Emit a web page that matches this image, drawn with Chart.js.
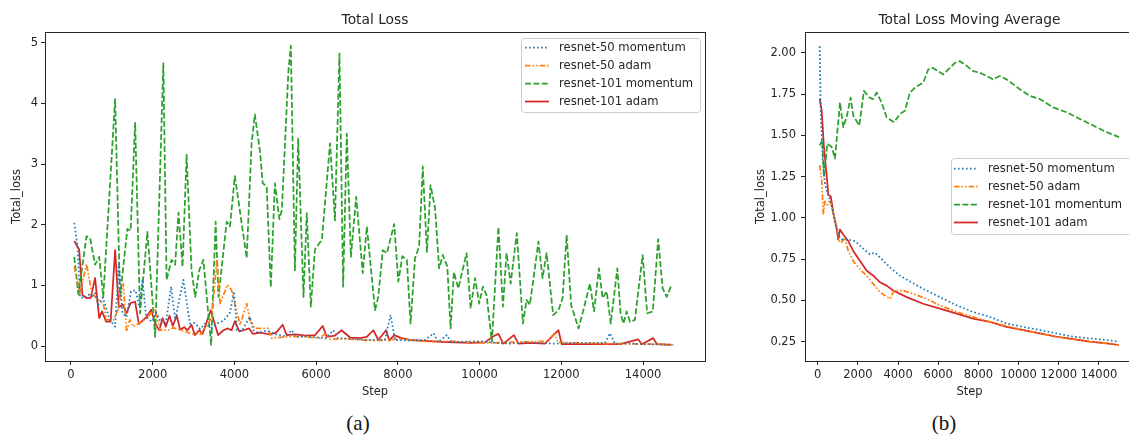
<!DOCTYPE html>
<html><head><meta charset="utf-8">
<script src="https://cdn.jsdelivr.net/npm/chart.js@4"></script>
<style>
html,body{margin:0;padding:0;width:1129px;height:435px;overflow:hidden;background:#fff;}
#wrap{position:relative;width:1129px;height:435px;overflow:hidden;}
canvas{position:absolute;top:0;}
#ca{left:0;}
#cb{left:745px;}
.cap{position:absolute;top:410px;line-height:26px;font-family:'Liberation Serif','DejaVu Serif',serif;font-size:21px;color:#111;transform:translateX(-50%);white-space:nowrap;}
</style></head><body>
<div id="wrap">
<canvas id="ca" width="720" height="405"></canvas>
<canvas id="cb" width="400" height="405"></canvas>
<div class="cap" style="left:358px">(a)</div>
<div class="cap" style="left:944px">(b)</div>
</div>
<script>
// ---------- labels ----------
const seriesNames = ['resnet-50 momentum', 'resnet-50 adam', 'resnet-101 momentum', 'resnet-101 adam'];
const xTicks = [0, 2000, 4000, 6000, 8000, 10000, 12000, 14000];
const yTicksA = [0, 1, 2, 3, 4, 5];
const yTicksB = [0.25, 0.50, 0.75, 1.00, 1.25, 1.50, 1.75, 2.00];

// ---------- (a) Total Loss ----------
const stepsR50MomA = [80,160,220,320,420,510,590,670,780,950,
  1080,1170,1260,1360,1470,1580,1670,1750,1840,1980,
  2080,2220,2320,2450,2550,2750,2910,3030,3160,3280,
  3450,3570,3740,3890,3990,4060,4180,4380,4460,4580,
  4800,5030,5260,5400,5520,5780,6090,6220,6420,6530,
  6830,7200,7680,7820,7930,8300,8660,8880,8980,9200,
  9300,9640,10010,10380,10740,11110,11480,11840,12330,12820,
  13070,13190,13310,13680,14170,14740];
const lossR50MomA = [2.03,1.64,0.81,0.79,0.85,0.82,0.87,0.68,0.80,0.43,
  0.32,1.36,0.54,0.48,0.90,0.92,0.65,1.09,0.48,0.40,
  0.55,0.37,0.38,0.98,0.43,1.09,0.37,0.38,0.28,0.37,
  0.30,0.37,0.42,0.55,0.90,0.26,0.25,0.48,0.26,0.22,
  0.25,0.19,0.16,0.26,0.15,0.16,0.14,0.12,0.26,0.13,
  0.12,0.10,0.10,0.51,0.10,0.09,0.10,0.21,0.06,0.18,
  0.06,0.07,0.08,0.05,0.04,0.06,0.05,0.04,0.05,0.05,
  0.05,0.21,0.04,0.04,0.03,0.02];

const stepsR50AdamA = [80,220,380,510,610,790,870,1040,1150,1280,
  1360,1440,1520,1690,1840,2060,2180,2370,2500,2670,
  2950,3160,3360,3450,3570,3650,3830,3930,4010,4140,
  4300,4380,4500,4830,4910,5240,5600,6090,6220,6340,
  6710,7070,7440,7810,8050,8420,8790,9280,9770,10250,
  10740,11230,11670,11820,11920,12460,12950,13440,13930,14420,
  14730];
const lossR50AdamA = [1.31,0.87,1.35,0.87,0.80,0.70,0.43,0.43,0.60,1.03,
  0.24,0.43,0.32,0.38,0.45,0.62,0.26,0.26,0.30,0.27,
  0.20,0.19,0.37,0.50,1.42,0.70,1.01,0.92,0.70,0.35,
  0.70,0.43,0.29,0.29,0.13,0.15,0.16,0.13,0.20,0.11,
  0.12,0.10,0.09,0.10,0.12,0.09,0.07,0.08,0.06,0.05,
  0.06,0.07,0.08,0.20,0.06,0.05,0.04,0.04,0.03,0.03,
  0.02];

const stepsR101MomA = [80,180,380,470,590,690,790,1080,1200,1380,
  1460,1570,1690,1870,2060,2260,2340,2460,2550,2630,
  2730,2830,2950,3040,3140,3240,3430,3540,3610,3810,
  3890,4010,4300,4420,4500,4630,4690,4790,4890,4990,
  5100,5160,5320,5380,5480,5560,5690,5770,5870,5970,
  6140,6340,6460,6570,6660,6750,6850,6980,7140,7240,
  7440,7520,7630,7730,7910,8010,8110,8220,8310,8420,
  8520,8610,8710,8800,8910,9010,9100,9210,9290,9370,
  9480,9680,9780,9890,9990,10080,10170,10300,10460,10570,
  10660,10760,10910,11060,11150,11230,11440,11540,11640,11800,
  11930,12030,12130,12240,12420,12540,12700,12800,12920,13010,
  13110,13210,13370,13450,13520,13600,13680,13800,13990,14100,
  14240,14370,14480,14580,14680];
const lossR101MomA = [1.47,0.85,1.81,1.77,1.34,1.47,0.81,4.07,0.81,1.93,
  1.90,3.68,0.54,1.88,0.15,4.66,1.09,1.42,1.34,2.20,
  1.31,3.15,1.25,0.81,1.25,1.42,0.02,2.05,0.81,2.05,
  1.97,2.80,1.45,3.34,3.82,3.18,2.69,2.62,0.97,2.68,
  2.09,2.24,4.52,4.95,1.25,3.42,0.81,2.19,0.65,1.59,
  1.75,3.34,2.07,4.82,0.98,3.50,1.47,2.46,1.20,1.97,
  0.59,0.81,1.58,1.53,2.01,1.06,1.48,1.42,0.37,1.45,
  1.64,2.96,1.55,2.65,2.27,1.28,1.50,1.31,0.29,1.22,
  0.95,1.53,0.62,1.12,0.70,0.98,0.84,0.07,1.96,0.65,
  1.53,1.03,1.86,0.37,0.76,0.68,1.72,1.12,1.53,0.51,
  0.59,0.79,1.83,0.68,0.29,0.59,1.03,0.57,1.28,0.79,
  0.90,0.37,1.28,0.54,0.37,0.57,0.40,0.43,1.50,0.54,
  0.57,1.76,0.95,0.81,0.98];

const stepsR101AdamA = [80,200,280,380,480,590,690,760,860,970,
  1080,1170,1270,1360,1460,1570,1660,1770,1850,1960,
  2060,2160,2240,2320,2410,2490,2590,2670,2770,2850,
  2950,3030,3140,3220,3420,3600,3730,3840,3930,4010,
  4120,4220,4360,4450,4630,4870,5020,5180,5280,5480,
  5730,5970,6160,6260,6460,6620,6830,7070,7240,7400,
  7520,7710,7790,7910,8090,8300,8540,8790,9030,9400,
  9770,10130,10340,10460,10580,10840,10950,11230,11600,11930,
  12010,12460,12950,13440,13880,13970,14250,14340,14700];
const lossR101AdamA = [1.73,1.59,0.84,0.79,0.79,1.12,0.46,0.57,0.40,0.40,
  1.58,0.64,0.68,0.54,0.71,0.73,0.36,0.43,0.48,0.60,
  0.37,0.26,0.46,0.32,0.50,0.33,0.50,0.27,0.31,0.26,
  0.35,0.18,0.26,0.20,0.59,0.18,0.26,0.29,0.26,0.41,
  0.24,0.26,0.29,0.20,0.22,0.19,0.22,0.35,0.18,0.19,
  0.17,0.18,0.33,0.15,0.17,0.26,0.14,0.13,0.15,0.26,
  0.10,0.26,0.09,0.18,0.13,0.10,0.09,0.08,0.07,0.06,
  0.05,0.06,0.16,0.20,0.04,0.18,0.04,0.05,0.04,0.26,
  0.03,0.03,0.03,0.03,0.11,0.03,0.13,0.03,0.02];

// ---------- (b) Total Loss Moving Average ----------
const stepsR50MomB = [100,150,250,360,480,650,860,1060,1190,1440,
  1860,2300,2600,2850,3100,3600,4090,5250,6080,6920,
  7740,8570,9400,10230,11060,11890,12720,13550,14380,15000];
const avgR50MomB = [2.04,1.65,1.35,1.21,1.15,1.10,0.97,0.89,0.87,0.87,
  0.86,0.81,0.78,0.79,0.76,0.70,0.65,0.57,0.52,0.47,
  0.43,0.40,0.36,0.34,0.32,0.30,0.28,0.27,0.26,0.25];

const stepsR50AdamB = [100,200,280,360,480,610,780,950,1060,1160,
  1360,1520,1770,2020,2350,2770,3100,3350,3600,3810,
  4260,4760,5420,6080,6920,7740,8570,9400,10230,11060,
  11890,12720,13550,14380,15000];
const avgR50AdamB = [1.32,1.23,1.02,1.10,1.08,1.11,1.03,0.95,0.86,0.85,
  0.88,0.80,0.74,0.70,0.66,0.60,0.55,0.53,0.51,0.56,
  0.56,0.54,0.51,0.47,0.43,0.40,0.37,0.345,0.32,0.30,
  0.28,0.265,0.25,0.24,0.23];

const stepsR101MomB = [100,230,310,480,700,860,1110,1270,1440,1640,
  1770,2070,2300,2570,2750,2940,3180,3430,3800,4090,
  4340,4590,4840,5250,5500,5720,6250,6500,6830,7080,
  7330,7740,8070,8410,8710,9070,9400,10060,10560,11060,
  11720,12390,13050,13710,14380,15000];
const avgR101MomB = [1.44,1.47,1.25,1.45,1.43,1.36,1.70,1.55,1.61,1.73,
  1.62,1.56,1.77,1.73,1.72,1.76,1.70,1.61,1.58,1.63,
  1.65,1.76,1.79,1.82,1.90,1.91,1.87,1.90,1.94,1.95,
  1.93,1.89,1.88,1.86,1.84,1.86,1.84,1.78,1.74,1.72,
  1.67,1.64,1.60,1.56,1.52,1.49];

const stepsR101AdamB = [100,200,310,450,530,650,780,950,1020,1110,
  1270,1520,1770,2100,2440,2770,3100,3430,3760,4430,
  5250,6080,6920,7740,8570,9400,10230,11060,11890,12720,
  13550,14380,15000];
const avgR101AdamB = [1.72,1.65,1.43,1.25,1.14,1.13,1.03,0.93,0.87,0.93,
  0.90,0.86,0.80,0.74,0.68,0.65,0.61,0.59,0.56,0.52,
  0.48,0.45,0.42,0.39,0.37,0.34,0.32,0.30,0.28,0.265,
  0.25,0.24,0.23];

// ---------- styles ----------
const colors = ['#1f77b4', '#ff7f0e', '#2ca02c', '#d62728'];
const dashes = [[1.6, 2.4], [5.5, 2, 1.6, 2, 1.6, 2], [6, 2.4], []];
const textColor = '#262626';

Chart.defaults.font.family = "'DejaVu Sans', sans-serif";
Chart.defaults.font.size = 11.5;
Chart.defaults.color = textColor;

function pts(xs, ys) { return xs.map((x, i) => ({ x: x, y: ys[i] })); }
function makeDatasets(list) {
  return list.map((pair, i) => ({
    label: seriesNames[i],
    data: pts(pair[0], pair[1]),
    borderColor: colors[i],
    backgroundColor: colors[i],
    borderWidth: 1.75,
    borderDash: dashes[i],
    borderJoinStyle: 'round',
    borderCapStyle: 'butt',
    pointRadius: 0,
    tension: 0,
    fill: false
  }));
}

const framePlugin = {
  id: 'frame',
  afterDatasetsDraw(chart) {
    const { ctx, chartArea: a } = chart;
    const l = Math.round(a.left), t = Math.round(a.top), r = Math.round(a.right), b = Math.round(a.bottom);
    ctx.save();
    ctx.strokeStyle = '#262626';
    ctx.lineWidth = 1;
    ctx.strokeRect(l + 0.5, t + 0.5, r - l, b - t);
    ctx.restore();
  }
};

const mplLegend = {
  id: 'mplLegend',
  afterDraw(chart, args, o) {
    const ctx = chart.ctx;
    ctx.save();
    ctx.beginPath();
    if (ctx.roundRect) ctx.roundRect(o.x + 0.5, o.y + 0.5, o.w, o.h, 3);
    else ctx.rect(o.x + 0.5, o.y + 0.5, o.w, o.h);
    ctx.fillStyle = 'rgba(255,255,255,0.8)';
    ctx.fill();
    ctx.strokeStyle = '#cccccc';
    ctx.lineWidth = 1;
    ctx.stroke();
    chart.data.datasets.forEach((ds, i) => {
      const y = o.y0 + i * o.gap;
      ctx.beginPath();
      ctx.setLineDash(ds.borderDash || []);
      ctx.strokeStyle = ds.borderColor;
      ctx.lineWidth = ds.borderWidth;
      ctx.moveTo(o.lx0, y);
      ctx.lineTo(o.lx1, y);
      ctx.stroke();
      ctx.setLineDash([]);
      ctx.fillStyle = textColor;
      ctx.font = "11.6px 'DejaVu Sans', sans-serif";
      ctx.textBaseline = 'middle';
      ctx.textAlign = 'left';
      ctx.fillText(ds.label, o.tx, y);
    });
    ctx.restore();
  }
};

function makeOptions(c) {
  return {
    responsive: false,
    animation: false,
    devicePixelRatio: 1,
    layout: { padding: { left: 0, top: 0, bottom: 0, right: c.padRight } },
    plugins: {
      legend: { display: false },
      tooltip: { enabled: false },
      title: {
        display: true, text: c.title, fullSize: false, color: textColor,
        font: { size: 13.8, weight: 'normal' },
        padding: { top: 11.7, bottom: 3.74 }
      },
      mplLegend: c.legend
    },
    scales: {
      x: {
        type: 'linear', min: c.xmin, max: c.xmax,
        afterBuildTicks: s => { s.ticks = xTicks.map(v => ({ value: v })); },
        afterFit: s => { s.height = 44; },
        grid: { display: true, drawOnChartArea: false, drawTicks: true, tickLength: 4, color: '#262626', lineWidth: 1 },
        border: { display: false },
        ticks: { color: textColor, padding: 3, maxRotation: 0, autoSkip: false, callback: v => String(v) },
        title: { display: true, text: 'Step', color: textColor, font: { size: 11.5 }, padding: { top: 0, bottom: 6.1 } }
      },
      y: {
        type: 'linear', min: c.ymin, max: c.ymax,
        afterBuildTicks: s => { s.ticks = c.yticks.map(v => ({ value: v })); },
        afterFit: s => { s.width = c.yWidth; },
        grid: { display: true, drawOnChartArea: false, drawTicks: true, tickLength: 4, color: '#262626', lineWidth: 1 },
        border: { display: false },
        ticks: { color: textColor, padding: c.yPad, autoSkip: false, callback: c.yfmt },
        title: { display: true, text: 'Total_loss', color: textColor, font: { size: 11.5 }, padding: { top: c.yTitlePad, bottom: 0 } }
      }
    }
  };
}

new Chart(document.getElementById('ca'), {
  type: 'line',
  data: { datasets: makeDatasets([
    [stepsR50MomA, lossR50MomA], [stepsR50AdamA, lossR50AdamA],
    [stepsR101MomA, lossR101MomA], [stepsR101AdamA, lossR101AdamA]]) },
  options: makeOptions({
    title: 'Total Loss', padRight: 15,
    xmin: -636, xmax: 15516, ymin: -0.247, ymax: 5.176,
    yticks: yTicksA, yWidth: 45, yPad: 3, yTitlePad: 10.1,
    yfmt: v => String(v),
    legend: { x: 521, y: 38, w: 179, h: 74, y0: 47.5, gap: 18, lx0: 525, lx1: 549, tx: 559 }
  }),
  plugins: [framePlugin, mplLegend]
});

new Chart(document.getElementById('cb'), {
  type: 'line',
  data: { datasets: makeDatasets([
    [stepsR50MomB, avgR50MomB], [stepsR50AdamB, avgR50AdamB],
    [stepsR101MomB, avgR101MomB], [stepsR101AdamB, avgR101AdamB]]) },
  options: makeOptions({
    title: 'Total Loss Moving Average', padRight: 11,
    xmin: -632, xmax: 15742, ymin: 0.133, ymax: 2.127,
    yticks: yTicksB, yWidth: 60, yPad: 5, yTitlePad: 9.1,
    yfmt: v => Number(v).toFixed(2),
    legend: { x: 206, y: 158, w: 182, h: 76, y0: 168.5, gap: 18, lx0: 209, lx1: 233, tx: 243 }
  }),
  plugins: [framePlugin, mplLegend]
});
</script>
</body></html>
